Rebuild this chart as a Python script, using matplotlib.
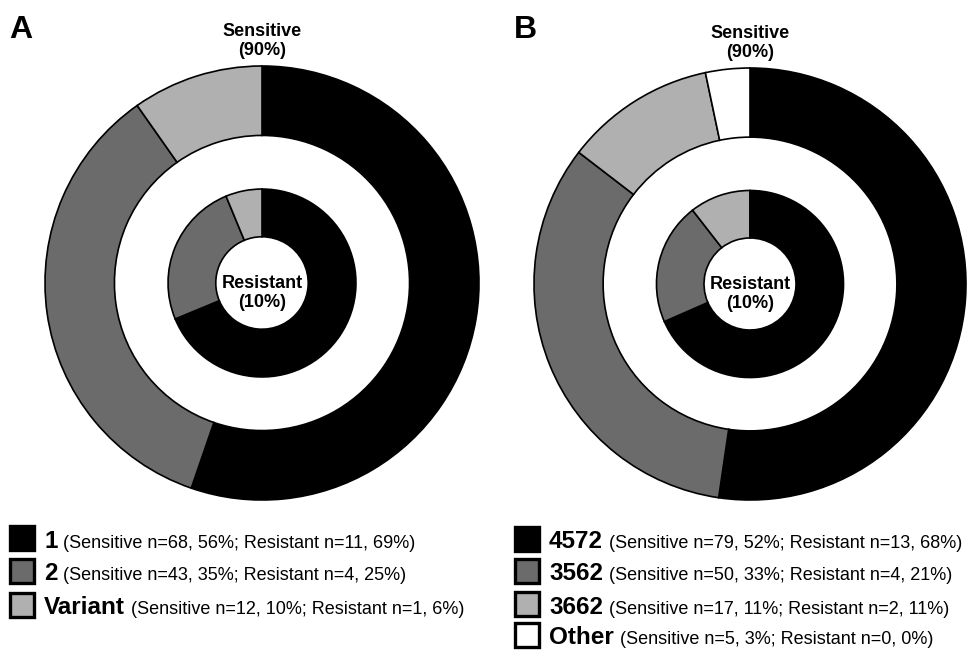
import matplotlib.pyplot as plt
from matplotlib.patches import Rectangle

plt.rcParams['font.family'] = ['Liberation Sans', 'DejaVu Sans']

# Panel A data
a_labels = ['1', '2', 'Variant']
a_sensitive = [68, 43, 12]
a_resistant = [11, 4, 1]
a_sens_pct = [56, 35, 10]
a_res_pct = [69, 25, 6]

# Panel B data
b_labels = ['4572', '3562', '3662', 'Other']
b_sensitive = [79, 50, 17, 5]
b_resistant = [13, 4, 2, 0]
b_sens_pct = [52, 33, 11, 3]
b_res_pct = [68, 21, 11, 0]

colors = ['#000000', '#6b6b6b', '#b0b0b0', '#ffffff']

W, H = 974, 654
fig = plt.figure(figsize=(W / 100, H / 100), dpi=100)


def fx(x):
    return x / W


def fy(y):
    return 1 - y / H


def donut(cx, cy, r, sens, res, letter, letter_x):
    ax = fig.add_axes([fx(cx - r), fy(cy + r), 2 * r / W, 2 * r / H])
    wp = dict(edgecolor='black', linewidth=1.2)
    ax.pie(sens, radius=1.0, startangle=90, counterclock=False,
           colors=colors[:len(sens)], wedgeprops=dict(width=0.32, **wp))
    ax.pie(res, radius=0.433, startangle=90, counterclock=False,
           colors=colors[:len(res)], wedgeprops=dict(width=0.22, **wp))
    ax.set_xlim(-1, 1)
    ax.set_ylim(-1, 1)
    ax.set_aspect('equal')
    ax.axis('off')
    for p in ax.patches:
        p.set_clip_on(False)
    ax.text(0, 1.115, 'Sensitive\n(90%)', ha='center', va='center',
            fontsize=13, fontweight='bold', linespacing=1.15)
    ax.text(0, -0.045, 'Resistant\n(10%)', ha='center', va='center',
            fontsize=13, fontweight='bold', linespacing=1.15)
    fig.text(fx(letter_x), fy(38), letter, fontsize=23,
             fontweight='bold', va='baseline')


def legend(x0, rows, labels, sens, spct, res, rpct):
    renderer = fig.canvas.get_renderer()
    for i, yc in enumerate(rows):
        fig.add_artist(Rectangle((fx(x0), fy(yc + 12)), 24 / W, 24 / H,
                                 transform=fig.transFigure,
                                 facecolor=colors[i], edgecolor='black',
                                 linewidth=2.4))
        t = fig.text(fx(x0 + 34), fy(yc + 9.5), labels[i], fontsize=17.5,
                     fontweight='bold', va='baseline')
        bb = t.get_window_extent(renderer)
        info = f'(Sensitive n={sens[i]}, {spct[i]}%; Resistant n={res[i]}, {rpct[i]}%)'
        fig.text(fx(bb.x1 + 6), fy(yc + 9.5), info, fontsize=13,
                 va='baseline')


donut(262, 283, 217, a_sensitive, a_resistant, 'A', 9)
donut(750, 284, 216, b_sensitive, b_resistant, 'B', 514)

legend(10, [538, 571, 605], a_labels, a_sensitive, a_sens_pct,
       a_resistant, a_res_pct)
legend(515, [539, 571, 604, 635], b_labels, b_sensitive, b_sens_pct,
       b_resistant, b_res_pct)

fig.savefig('out.png', dpi=100)
